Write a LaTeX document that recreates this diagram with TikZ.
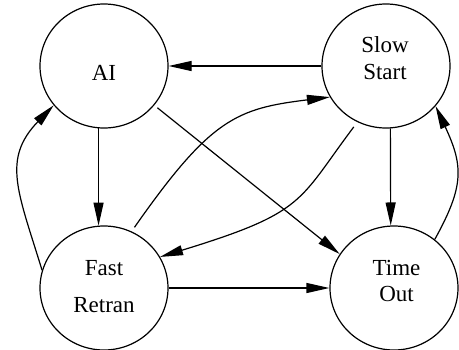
\documentclass[tikz,border=0pt]{standalone}
\usepackage{fontspec}
\setmainfont{Liberation Serif}
\usetikzlibrary{arrows.meta,shapes.geometric}
\begin{document}
\begin{tikzpicture}[x=1pt,y=1pt,
  state/.style={draw, ellipse, minimum width=128pt, minimum height=124pt,
                inner sep=0pt, line width=1.2pt},
  lbl/.style={anchor=base, inner sep=0pt, font=\fontsize{23}{27}\selectfont},
  edge/.style={line width=1.2pt, -{Triangle[length=23pt,width=10pt]}},
]
\useasboundingbox (0,0) rectangle (459,-349);

% states
\node[state] (ai)  at (104,-66)  {};
\node[state] (ss)  at (386,-66)  {};
\node[state] (fr)  at (104,-288) {};
\node[state] (tmo) at (394,-288) {};

% state names
\node[lbl] (aiA)  at (104,-80)   {AI};
\node[lbl] (ssA)  at (385,-52)   {Slow};
\node[lbl] (ssB)  at (385,-79)   {Start};
\node[lbl] (frA)  at (104,-275)  {Fast};
\node[lbl] (frB)  at (104,-312)  {Retran};
\node[lbl] (tmoA) at (396.5,-275) {Time};
\node[lbl] (tmoB) at (396.5,-301) {Out};

% straight transitions
\draw[edge] (ss.west) -- (ai.east);
\draw[edge] (ai.-95.5) -- (fr.95.5);
\draw[edge] (fr.east) -- (tmo.west);
\draw[edge] (ss.-86.3) -- (tmo.93.7);
\draw[edge, shorten <=4pt] (ai.-38) -- (tmo.148);

% curved transitions
\draw[edge, shorten <=5pt] (fr.64) .. controls +(55:138) and +(187:94) .. (ss.209);
\draw[edge, shorten <=6pt] (ss.243) .. controls +(233:99) and +(17:153) .. (fr.29);
\draw[edge] (fr.164) .. controls +(107:82) and +(226:75) .. (ai.218);
\draw[edge] (tmo.50) .. controls +(61:61) and +(295:66) .. (ss.321);
\end{tikzpicture}
\end{document}
